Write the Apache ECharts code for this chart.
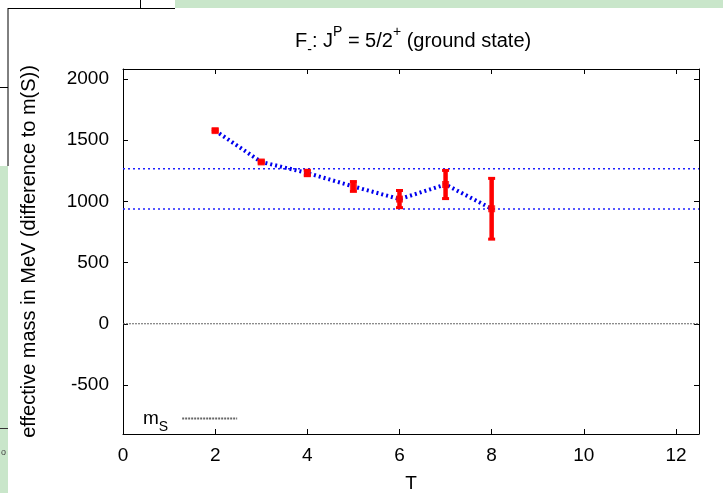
<!DOCTYPE html>
<html>
<head>
<meta charset="utf-8">
<script src="https://cdn.jsdelivr.net/npm/echarts@6/dist/echarts.min.js"></script>
<style>
html,body{margin:0;padding:0;background:#fff;}
#chart{width:723px;height:493px;}
</style>
</head>
<body>
<div id="chart"></div>
<script>
// ---- data ----
const timeSlices = [2, 3, 4, 5, 6, 7, 8];
const effMass   = [1577, 1321, 1231, 1121, 1018, 1137, 939];
const effErr    = [10, 10, 22, 40, 70, 115, 248];
const bandUpper = 1266;
const bandLower = 936;
const mS = 0;
const xTicks = [0, 2, 4, 6, 8, 10, 12];
const yTicks = [-500, 0, 500, 1000, 1500, 2000];
const xRange = [0, 12.5];
const yRange = [-900, 2080];

const FONT = 'Liberation Sans, Arial, sans-serif';
const FS = 19;

const chart = echarts.init(document.getElementById('chart'), null, {renderer: 'canvas'});

const pts = timeSlices.map((t, i) => [t, effMass[i], effErr[i]]);

function renderErr(params, api) {
  const x = api.value(0), y = api.value(1), e = api.value(2);
  const top = api.coord([x, y + e]);
  const bot = api.coord([x, y - e]);
  const cw = 3.5;
  const st = {stroke: '#ff0000', lineWidth: 4.5};
  const cs = {stroke: '#ff0000', lineWidth: 3};
  return {
    type: 'group',
    children: [
      {type: 'line', shape: {x1: top[0], y1: top[1], x2: bot[0], y2: bot[1]}, style: st},
      {type: 'line', shape: {x1: top[0] - cw, y1: top[1], x2: top[0] + cw, y2: top[1]}, style: cs},
      {type: 'line', shape: {x1: bot[0] - cw, y1: bot[1], x2: bot[0] + cw, y2: bot[1]}, style: cs}
    ]
  };
}

const axisCommon = {
  type: 'value',
  axisLine: {show: true, onZero: false, lineStyle: {color: '#000', width: 1}},
  axisTick: {show: true, inside: true, length: 5, lineStyle: {color: '#000', width: 1}},
  splitLine: {show: false},
  axisLabel: {color: '#000', fontFamily: FONT, fontSize: FS, formatter: v => String(v)}
};

const option = {
  animation: false,
  backgroundColor: '#fff',
  title: {
    text: '{n|F}{sub|-}{n|: J}{sup|P}{n| = 5/2}{sup|+}{n| (ground state)}',
    left: 290,
    top: 20,
    textStyle: {
      fontWeight: 'normal',
      rich: {
        n: {fontFamily: FONT, fontSize: 20, fontWeight: 'normal', color: '#000', lineHeight: 26, verticalAlign: 'bottom'},
        sup: {fontFamily: FONT, fontSize: 14, fontWeight: 'normal', color: '#000', lineHeight: 24, verticalAlign: 'top'},
        sub: {fontFamily: FONT, fontSize: 14, fontWeight: 'normal', color: '#000', lineHeight: 14, verticalAlign: 'bottom', padding: [0, 0, -6, 0]}
      }
    }
  },
  grid: {left: 123, right: 24, top: 69, bottom: 59, containLabel: false, outerBoundsMode: 'none'},
  legend: {
    show: true,
    left: 138,
    top: 404,
    align: 'right',
    itemWidth: 55,
    itemHeight: 2,
    data: ['mS'],
    formatter: () => '{m|m}{s|S}',
    textStyle: {
      rich: {
        m: {fontFamily: FONT, fontSize: FS, color: '#000'},
        s: {fontFamily: FONT, fontSize: 14, color: '#000', verticalAlign: 'bottom', padding: [0, 9, -6, 0]}
      }
    }
  },
  xAxis: [
    Object.assign({}, axisCommon, {
      position: 'bottom', min: xRange[0], max: xRange[1],
      name: 'T', nameLocation: 'middle', nameGap: 40,
      nameTextStyle: {color: '#000', fontFamily: FONT, fontSize: FS},
      axisTick: Object.assign({}, axisCommon.axisTick, {customValues: xTicks}),
      axisLabel: Object.assign({}, axisCommon.axisLabel, {customValues: xTicks, margin: 12})
    }),
    Object.assign({}, axisCommon, {
      position: 'top', min: xRange[0], max: xRange[1],
      axisTick: Object.assign({}, axisCommon.axisTick, {customValues: xTicks}),
      axisLabel: {show: false}
    })
  ],
  yAxis: [
    Object.assign({}, axisCommon, {
      position: 'left', min: yRange[0], max: yRange[1],
      name: 'effective mass in MeV (difference to m(S))', nameLocation: 'middle', nameGap: 84,
      nameTextStyle: {color: '#000', fontFamily: FONT, fontSize: 20},
      axisTick: Object.assign({}, axisCommon.axisTick, {customValues: yTicks}),
      axisLabel: Object.assign({}, axisCommon.axisLabel, {customValues: yTicks, margin: 14})
    }),
    Object.assign({}, axisCommon, {
      position: 'right', min: yRange[0], max: yRange[1],
      axisTick: Object.assign({}, axisCommon.axisTick, {customValues: yTicks}),
      axisLabel: {show: false}
    })
  ],
  series: [
    {
      name: 'mS', type: 'line', xAxisIndex: 0, yAxisIndex: 0,
      data: [[xRange[0], mS], [xRange[1], mS]],
      symbol: 'none', silent: true,
      lineStyle: {color: '#666', width: 1, type: [2, 1]},
      itemStyle: {color: '#666'},
      z: 1
    },
    {
      name: 'upper', type: 'line', data: [[xRange[0], bandUpper], [xRange[1], bandUpper]],
      symbol: 'none', silent: true,
      lineStyle: {color: '#2020ff', width: 1.5, type: [2, 3]}, z: 1
    },
    {
      name: 'lower', type: 'line', data: [[xRange[0], bandLower], [xRange[1], bandLower]],
      symbol: 'none', silent: true,
      lineStyle: {color: '#2020ff', width: 1.5, type: [2, 3]}, z: 1
    },
    {
      name: 'fit', type: 'line', data: pts.map(p => [p[0], p[1]]),
      symbol: 'none', silent: true,
      lineStyle: {color: '#0000ee', width: 4, type: [2, 3]}, z: 2
    },
    {
      name: 'err', type: 'custom', data: pts, renderItem: renderErr, z: 3,
      encode: {x: 0, y: 1}
    },
    {
      name: 'pts', type: 'scatter', data: pts.map(p => [p[0], p[1]]),
      symbol: 'rect', symbolSize: 7, itemStyle: {color: '#ff0000'}, z: 4
    }
  ],
  graphic: [
    {type: 'rect', shape: {x: 175, y: 0, width: 548, height: 8}, style: {fill: '#c9e6ca'}, silent: true},
    {type: 'rect', shape: {x: 0, y: 166, width: 8, height: 327}, style: {fill: '#c9e6ca'}, silent: true},
    {type: 'line', shape: {x1: 8, y1: 8.5, x2: 175, y2: 8.5}, style: {stroke: '#000', lineWidth: 1}, silent: true},
    {type: 'line', shape: {x1: 140.5, y1: 0, x2: 140.5, y2: 8}, style: {stroke: '#000', lineWidth: 1}, silent: true},
    {type: 'line', shape: {x1: 8, y1: 8, x2: 8, y2: 166}, style: {stroke: '#000', lineWidth: 1}, silent: true},
    {type: 'line', shape: {x1: 0, y1: 87.5, x2: 8, y2: 87.5}, style: {stroke: '#000', lineWidth: 1}, silent: true},
    {type: 'line', shape: {x1: 0, y1: 428.5, x2: 8, y2: 428.5}, style: {stroke: '#333', lineWidth: 1}, silent: true},
    {type: 'text', x: 1, y: 448, style: {text: 'o', fontFamily: FONT, fontSize: 9, fill: '#444'}, silent: true}
  ]
};

chart.setOption(option);
</script>
</body>
</html>
